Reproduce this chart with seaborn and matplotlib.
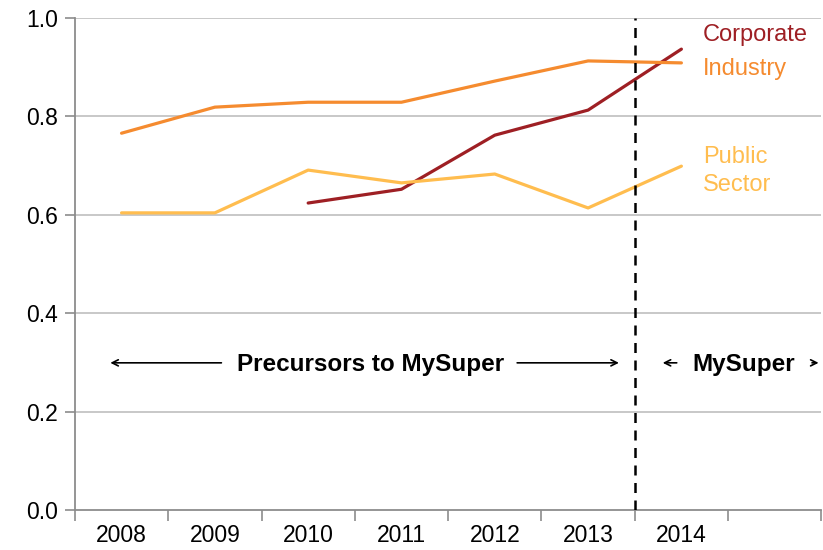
import matplotlib
matplotlib.use("Agg")
import matplotlib.pyplot as plt
import seaborn as sns
import pandas as pd
import numpy as np

# данные
years = ["2008", "2009", "2010", "2011", "2012", "2013", "2014"]
corporate = [np.nan, np.nan, 0.624, 0.652, 0.762, 0.813, 0.937]
industry = [0.766, 0.819, 0.829, 0.829, 0.872, 0.913, 0.909]
public_sector = [0.604, 0.604, 0.691, 0.665, 0.683, 0.614, 0.699]

series_names = ["Corporate", "Industry", "Public Sector"]
colors = {"Corporate": "#9E1F24", "Industry": "#F58B2F", "Public Sector": "#FFBD4F"}

sns.set_theme(style="white")
plt.rcParams["font.family"] = ["Liberation Sans", "DejaVu Sans"]
plt.rcParams["text.color"] = "black"

rows = []
for name, vals in zip(series_names, [corporate, industry, public_sector]):
    for i, v in enumerate(vals):
        rows.append({"pos": i, "value": v, "series": name})
df = pd.DataFrame(rows).dropna()

fig, ax = plt.subplots(figsize=(8.23, 5.5), dpi=100)
fig.subplots_adjust(left=0.091, right=0.998, bottom=0.073, top=0.967)

# сетка
for y in np.arange(0.2, 1.01, 0.2):
    ax.axhline(y, color="#C4C4C4", lw=1.3, zorder=0)

sns.lineplot(data=df, x="pos", y="value", hue="series", hue_order=series_names,
             palette=colors, lw=2.3, legend=False, ax=ax, zorder=3)

ax.axvline(5.5, color="black", lw=1.8, ls=(0, (4, 3)), zorder=4)

ax.set_xlim(-0.5, 7.5)
ax.set_ylim(0, 1.0)
ax.set_xlabel("")
ax.set_ylabel("")

ax.set_yticks(np.arange(0, 1.01, 0.2))
ax.set_yticklabels([f"{v:.1f}" for v in np.arange(0, 1.01, 0.2)])
ax.set_xticks(range(len(years)))
ax.set_xticklabels(years)
ax.set_xticks(np.arange(-0.5, 7.6, 1), minor=True)
ax.tick_params(axis="x", which="major", length=0, pad=10, labelsize=16.5, labelcolor="black")
ax.tick_params(axis="x", which="minor", length=8, width=1.2, color="#8C8C8C", direction="out")
ax.tick_params(axis="y", which="major", length=7, width=1.2, color="#8C8C8C",
               direction="out", labelsize=16.5, pad=5, labelcolor="black")
ax.tick_params(bottom=True, left=True, which="both")

for s in ["top", "right"]:
    ax.spines[s].set_visible(False)
for s in ["left", "bottom"]:
    ax.spines[s].set_color("#8C8C8C")
    ax.spines[s].set_linewidth(1.3)

# подписи серий
lab = dict(fontsize=17, va="baseline", ha="left")
ax.text(6.23, 0.953, "Corporate", color=colors["Corporate"], **lab)
ax.text(6.23, 0.884, "Industry", color=colors["Industry"], **lab)
ax.text(6.23, 0.705, "Public", color=colors["Public Sector"], **lab)
ax.text(6.23, 0.648, "Sector", color=colors["Public Sector"], **lab)

# аннотации периодов
bold_font = ["Liberation Sans Narrow", "Liberation Sans", "DejaVu Sans"]
yy = 0.299
ax.text(2.67, 0.283, "Precursors to MySuper", fontsize=17.5, fontweight="bold",
        ha="center", va="baseline", family=bold_font, color="black")
ax.text(6.67, 0.283, "MySuper", fontsize=17.5, fontweight="bold",
        ha="center", va="baseline", family=bold_font, color="black")
arrow = dict(arrowstyle="->", color="black", lw=1.2, mutation_scale=11)
ax.annotate("", xy=(-0.15, yy), xytext=(1.10, yy), arrowprops=arrow)
ax.annotate("", xy=(5.36, yy), xytext=(4.21, yy), arrowprops=arrow)
ax.annotate("", xy=(5.77, yy), xytext=(5.98, yy), arrowprops=arrow)
ax.annotate("", xy=(7.5, yy), xytext=(7.37, yy), arrowprops=arrow, annotation_clip=False)

fig.savefig("out.png", dpi=100)
